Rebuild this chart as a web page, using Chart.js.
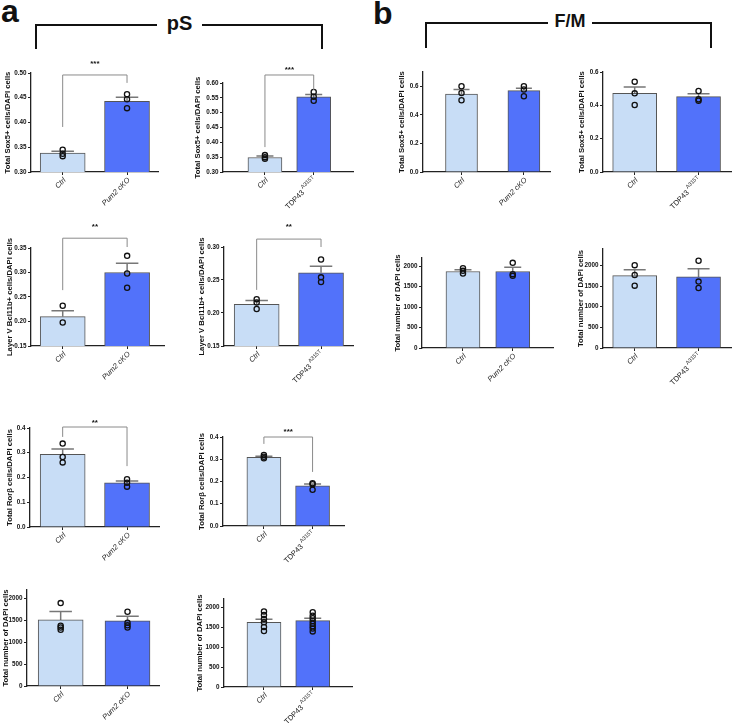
<!DOCTYPE html>
<html>
<head>
<meta charset="utf-8">
<script src="https://cdn.jsdelivr.net/npm/chart.js@4.4.1/dist/chart.umd.min.js"></script>
<style>
  body { margin: 0; background: #fff; width: 735px; height: 723px; position: relative; overflow: hidden;
         font-family: "Liberation Sans", Arial, Helvetica, sans-serif; }
  .panel { position: absolute; }
  .letter { position: absolute; font-weight: bold; font-size: 32px; line-height: 32px; color: #111; }
  .group { position: absolute; box-sizing: border-box; border: 2.5px solid #111; border-bottom: none; }
  .group-label { position: absolute; background: #fff; font-weight: bold; color: #111; white-space: nowrap; }
</style>
</head>
<body>
<div class="letter" style="left:1px; top:-5px;">a</div>
<div class="letter" style="left:373px; top:-3px;">b</div>

<div class="group" style="left:35px; top:24px; width:288px; height:25px;"></div>
<div class="group-label" style="left:157px; top:13px; width:45px; text-align:center; font-size:20px; line-height:20px;">pS</div>

<div class="group" style="left:425px; top:22px; width:287px; height:26px;"></div>
<div class="group-label" style="left:548px; top:12px; width:44px; text-align:center; font-size:18px; line-height:18px;">F/M</div>

<script>
const FONT = '"Liberation Sans", Arial, Helvetica, sans-serif';
Chart.defaults.font.family = FONT;

// category labels
const pum2Labels = ['Ctrl', 'Pum2 cKO'];
const tdpLabels = ['Ctrl', 'TDP43^A315T'];

// axis titles
const sox5Title = 'Total Sox5+ cells/DAPI cells';
const bcl11bTitle = 'Layer V Bcl11b+ cells/DAPI cells';
const rorbTitle = 'Total Ror\u03B2 cells/DAPI cells';
const dapiTitle = 'Total number of DAPI cells';

// pS - Sox5+
const psSox5Pum2Mean = [0.338, 0.443];
const psSox5Pum2Sem = [0.004, 0.008];
const psSox5Pum2Ctrl = [0.345, 0.337, 0.332];
const psSox5Pum2Mut = [0.457, 0.447, 0.429];

const psSox5TdpMean = [0.349, 0.553];
const psSox5TdpSem = [0.005, 0.008];
const psSox5TdpCtrl = [0.357, 0.350, 0.345];
const psSox5TdpMut = [0.570, 0.554, 0.540];

// pS - Bcl11b+
const psBclPum2Mean = [0.210, 0.300];
const psBclPum2Sem = [0.012, 0.019];
const psBclPum2Ctrl = [0.232, 0.198];
const psBclPum2Mut = [0.334, 0.298, 0.269];

const psBclTdpMean = [0.213, 0.261];
const psBclTdpSem = [0.006, 0.010];
const psBclTdpCtrl = [0.221, 0.216, 0.206];
const psBclTdpMut = [0.281, 0.254, 0.247];

// pS - Rorb
const psRorbPum2Mean = [0.294, 0.178];
const psRorbPum2Sem = [0.021, 0.008];
const psRorbPum2Ctrl = [0.337, 0.283, 0.261];
const psRorbPum2Mut = [0.193, 0.179, 0.163];

const psRorbTdpMean = [0.309, 0.181];
const psRorbTdpSem = [0.005, 0.008];
const psRorbTdpCtrl = [0.319, 0.311, 0.304];
const psRorbTdpMut = [0.192, 0.188, 0.163];

// pS - DAPI
const psDapiPum2Mean = [1515, 1492];
const psDapiPum2Sem = [190, 106];
const psDapiPum2Ctrl = [1900, 1380, 1340, 1290];
const psDapiPum2Mut = [1700, 1450, 1390, 1340];

const psDapiTdpMean = [1617, 1658];
const psDapiTdpSem = [75, 59];
const psDapiTdpCtrl = [1890, 1800, 1700, 1620, 1500, 1400];
const psDapiTdpMut = [1870, 1780, 1720, 1650, 1580, 1520, 1460, 1390];

// F/M - Sox5+
const fmSox5Pum2Mean = [0.546, 0.570];
const fmSox5Pum2Sem = [0.031, 0.016];
const fmSox5Pum2Ctrl = [0.600, 0.553, 0.502];
const fmSox5Pum2Mut = [0.600, 0.577, 0.530];

const fmSox5TdpMean = [0.472, 0.452];
const fmSox5TdpSem = [0.038, 0.018];
const fmSox5TdpCtrl = [0.542, 0.472, 0.402];
const fmSox5TdpMut = [0.486, 0.436, 0.428];

// F/M - DAPI
const fmDapiPum2Mean = [1870, 1870];
const fmDapiPum2Sem = [41, 106];
const fmDapiPum2Ctrl = [1951, 1886, 1821];
const fmDapiPum2Mut = [2081, 1805, 1764];

const fmDapiTdpMean = [1756, 1724];
const fmDapiTdpSem = [139, 195];
const fmDapiTdpCtrl = [2008, 1772, 1512];
const fmDapiTdpMut = [2114, 1610, 1456];

const LIGHT = '#c8ddf6';
const DARK = '#5272fa';

// layout: axis box in page pixels, bracket in data units
const panels = [
  { mean: psSox5Pum2Mean, sem: psSox5Pum2Sem, ctrl: psSox5Pum2Ctrl, mut: psSox5Pum2Mut, labels: pum2Labels, title: sox5Title,
    yMin: 0.30, yMax: 0.50, step: 0.05, dec: 2, stars: '***', bracket: [0.496, 0.391, 0.480], starGap: 13,
    box: { L: 31, R: 162, top: 73, bottom: 172, c1: 63.5, c2: 129.5, bw: 45, titleX: 8 } },
  { mean: psSox5TdpMean, sem: psSox5TdpSem, ctrl: psSox5TdpCtrl, mut: psSox5TdpMut, labels: tdpLabels, title: sox5Title,
    yMin: 0.30, yMax: 0.60, step: 0.05, dec: 2, stars: '***', bracket: [0.627, 0.384, 0.576], starGap: 7,
    box: { L: 223, R: 357, top: 83, bottom: 172, c1: 266, c2: 316, bw: 34, titleX: 198 } },
  { mean: psBclPum2Mean, sem: psBclPum2Sem, ctrl: psBclPum2Ctrl, mut: psBclPum2Mut, labels: pum2Labels, title: bcl11bTitle,
    yMin: 0.15, yMax: 0.35, step: 0.05, dec: 2, stars: '**', bracket: [0.370, 0.264, 0.352], starGap: 13,
    box: { L: 31, R: 168, top: 248, bottom: 346, c1: 63.5, c2: 129.5, bw: 45, titleX: 10 } },
  { mean: psBclTdpMean, sem: psBclTdpSem, ctrl: psBclTdpCtrl, mut: psBclTdpMut, labels: tdpLabels, title: bcl11bTitle,
    yMin: 0.15, yMax: 0.30, step: 0.05, dec: 2, stars: '**', bracket: [0.312, 0.235, 0.300], starGap: 14,
    box: { L: 224, R: 357, top: 247, bottom: 346, c1: 257.5, c2: 323.5, bw: 45, titleX: 202 } },
  { mean: psRorbPum2Mean, sem: psRorbPum2Sem, ctrl: psRorbPum2Ctrl, mut: psRorbPum2Mut, labels: pum2Labels, title: rorbTitle,
    yMin: 0, yMax: 0.4, step: 0.1, dec: 1, stars: '**', bracket: [0.404, 0.364, 0.246], starGap: 6,
    box: { L: 30, R: 163, top: 428, bottom: 527, c1: 63.5, c2: 129.5, bw: 45, titleX: 10 } },
  { mean: psRorbTdpMean, sem: psRorbTdpSem, ctrl: psRorbTdpCtrl, mut: psRorbTdpMut, labels: tdpLabels, title: rorbTitle,
    yMin: 0, yMax: 0.4, step: 0.1, dec: 1, stars: '***', bracket: [0.400, 0.369, 0.243], starGap: 7,
    box: { L: 223, R: 348, top: 437, bottom: 526, c1: 265, c2: 315, bw: 34, titleX: 202 } },
  { mean: psDapiPum2Mean, sem: psDapiPum2Sem, ctrl: psDapiPum2Ctrl, mut: psDapiPum2Mut, labels: pum2Labels, title: dapiTitle,
    yMin: 0, yMax: 2200, step: 500, dec: 0,
    box: { L: 27, R: 163, top: 590, bottom: 686, c1: 61.5, c2: 130, bw: 45, titleX: 6 } },
  { mean: psDapiTdpMean, sem: psDapiTdpSem, ctrl: psDapiTdpCtrl, mut: psDapiTdpMut, labels: tdpLabels, title: dapiTitle,
    yMin: 0, yMax: 2200, step: 500, dec: 0,
    box: { L: 224, R: 356, top: 599, bottom: 687, c1: 265, c2: 315, bw: 34, titleX: 200 } },
  { mean: fmSox5Pum2Mean, sem: fmSox5Pum2Sem, ctrl: fmSox5Pum2Ctrl, mut: fmSox5Pum2Mut, labels: pum2Labels, title: sox5Title,
    yMin: 0, yMax: 0.7, step: 0.2, dec: 1,
    box: { L: 423, R: 554, top: 72, bottom: 172, c1: 462.5, c2: 526.5, bw: 32, titleX: 402 } },
  { mean: fmSox5TdpMean, sem: fmSox5TdpSem, ctrl: fmSox5TdpCtrl, mut: fmSox5TdpMut, labels: tdpLabels, title: sox5Title,
    yMin: 0, yMax: 0.6, step: 0.2, dec: 1,
    box: { L: 603, R: 735, top: 72, bottom: 172, c1: 635.5, c2: 701, bw: 44, titleX: 582 } },
  { mean: fmDapiPum2Mean, sem: fmDapiPum2Sem, ctrl: fmDapiPum2Ctrl, mut: fmDapiPum2Mut, labels: pum2Labels, title: dapiTitle,
    yMin: 0, yMax: 2200, step: 500, dec: 0,
    box: { L: 422, R: 557, top: 258, bottom: 348, c1: 464, c2: 515, bw: 34, titleX: 398 } },
  { mean: fmDapiTdpMean, sem: fmDapiTdpSem, ctrl: fmDapiTdpCtrl, mut: fmDapiTdpMut, labels: tdpLabels, title: dapiTitle,
    yMin: 0, yMax: 2400, step: 500, dec: 0,
    box: { L: 603, R: 735, top: 249, bottom: 348, c1: 635.5, c2: 701, bw: 44, titleX: 581 } }
];

function drawLabel(ctx, text, x, y) {
  ctx.save();
  ctx.translate(x, y);
  ctx.rotate(-Math.PI / 4);
  ctx.fillStyle = '#222';
  ctx.textBaseline = 'middle';
  if (text.indexOf('^') >= 0) {
    const [main, sup] = text.split('^');
    ctx.font = '7.5px ' + FONT;
    const w1 = ctx.measureText(main).width;
    ctx.font = '5.5px ' + FONT;
    const w2 = ctx.measureText(sup).width;
    ctx.textAlign = 'left';
    ctx.font = '7.5px ' + FONT;
    ctx.fillText(main, -(w1 + w2 + 1.5), 0);
    ctx.font = '5.5px ' + FONT;
    ctx.fillText(sup, -w2, -3.5);
  } else {
    ctx.font = 'italic 7.5px ' + FONT;
    ctx.textAlign = 'right';
    ctx.fillText(text, 0, 0);
  }
  ctx.restore();
}

function decor(p) {
  return {
    id: 'decor',
    beforeDatasetsDraw(chart) {
      const { ctx, scales: { x, y } } = chart;
      // error bars (SEM, upward only)
      ctx.save();
      ctx.strokeStyle = '#777';
      ctx.lineWidth = 1.5;
      p.mean.forEach((m, i) => {
        const px = x.getPixelForValue(i + 1);
        const y0 = y.getPixelForValue(m);
        const y1 = y.getPixelForValue(m + p.sem[i]);
        const cap = p.box.bw * 0.25;
        ctx.beginPath();
        ctx.moveTo(px, y0); ctx.lineTo(px, y1);
        ctx.moveTo(px - cap, y1); ctx.lineTo(px + cap, y1);
        ctx.stroke();
      });
      ctx.restore();
    },
    afterDraw(chart) {
      const { ctx, scales: { x, y }, chartArea } = chart;
      p.labels.forEach((lab, i) => {
        drawLabel(ctx, lab, x.getPixelForValue(i + 1) + 2, chartArea.bottom + 7);
      });
      if (p.bracket) {
        const [topV, leftV, rightV] = p.bracket;
        const x1 = x.getPixelForValue(1), x2 = x.getPixelForValue(2);
        const yt = y.getPixelForValue(topV);
        ctx.save();
        ctx.strokeStyle = '#8a8a8a';
        ctx.lineWidth = 1;
        ctx.beginPath();
        ctx.moveTo(x1, y.getPixelForValue(leftV));
        ctx.lineTo(x1, yt);
        ctx.lineTo(x2, yt);
        ctx.lineTo(x2, y.getPixelForValue(rightV));
        ctx.stroke();
        ctx.fillStyle = '#111';
        ctx.font = 'bold 8px ' + FONT;
        ctx.textAlign = 'center';
        ctx.textBaseline = 'middle';
        ctx.fillText(p.stars, (x1 + x2) / 2, yt - p.starGap + 2);
        ctx.restore();
      }
    }
  };
}

function build(p) {
  const b = p.box;
  const padTop = 30, xH = 55;
  const wy = b.L - b.titleX + 5;
  const left = b.L - wy, top = b.top - padTop;
  const w = b.R - left + 2, h = (b.bottom - b.top) + padTop + xH;
  const unit = b.c2 - b.c1;
  const xMin = 1 - (b.c1 - b.L) / unit, xMax = 2 + (b.R - b.c2) / unit;

  const cv = document.createElement('canvas');
  cv.width = w; cv.height = h;
  cv.className = 'panel';
  cv.style.left = left + 'px'; cv.style.top = top + 'px';
  document.body.appendChild(cv);

  const pts = p.ctrl.map(v => ({ x: 1, y: v })).concat(p.mut.map(v => ({ x: 2, y: v })));

  new Chart(cv, {
    type: 'bar',
    data: {
      datasets: [
        { type: 'scatter', data: pts, order: 0, pointRadius: 2.6, pointBorderWidth: 1.3,
          borderColor: '#111', backgroundColor: 'rgba(0,0,0,0)' },
        { type: 'bar', data: p.mean.map((v, i) => ({ x: i + 1, y: v })), order: 1,
          backgroundColor: [LIGHT, DARK], borderColor: '#555', borderWidth: 1, barThickness: b.bw }
      ]
    },
    options: {
      responsive: false,
      animation: false,
      events: [],
      layout: { padding: { top: padTop, right: 2, left: 0, bottom: 0 } },
      plugins: { legend: { display: false }, tooltip: { enabled: false } },
      scales: {
        x: {
          type: 'linear', min: xMin, max: xMax, offset: false,
          afterBuildTicks: s => { s.ticks = [{ value: 1 }, { value: 2 }]; },
          afterFit: s => { s.height = xH; },
          ticks: { display: false },
          grid: { display: true, offset: false, drawOnChartArea: false, drawTicks: true, tickLength: 3, color: '#222' },
          border: { display: true, color: '#222', width: 1.3 }
        },
        y: {
          type: 'linear', min: p.yMin, max: p.yMax,
          afterBuildTicks: s => {
            const t = [];
            for (let i = 0; ; i++) {
              const v = +(p.yMin + i * p.step).toFixed(6);
              if (v > p.yMax + 1e-9) break;
              t.push({ value: v });
            }
            s.ticks = t;
          },
          afterFit: s => { s.width = wy; },
          ticks: { color: '#111', padding: 1.5, font: { size: 6.3, weight: 'bold' },
                   callback: v => Number(v).toFixed(p.dec) },
          grid: { drawOnChartArea: false, drawTicks: true, tickLength: 3, color: '#222' },
          border: { display: true, color: '#222', width: 1.3 },
          title: { display: true, text: p.title, color: '#111', padding: 0, font: { size: 7.7, weight: 'bold' } }
        }
      }
    },
    plugins: [decor(p)]
  });
}

panels.forEach(build);
</script>
</body>
</html>
